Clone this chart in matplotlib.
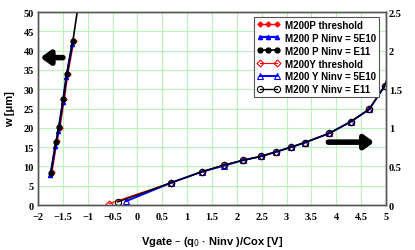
import matplotlib.pyplot as plt
from matplotlib.legend_handler import HandlerLine2D

# left axis: M200 P series, w [um]
p_thr_x = [-1.72, -1.62, -1.56, -1.47, -1.40, -1.28]
p_thr_w = [8.5, 16.5, 20.0, 27.5, 34.0, 42.5]
p_5e10_x = [-1.75, -1.65, -1.59, -1.50, -1.43, -1.31]
p_5e10_w = [7.8, 15.3, 19.2, 26.8, 33.2, 41.8]
p_e11_x = [-1.74, -1.64, -1.58, -1.49, -1.42, -1.30, -1.20]
p_e11_w = [8.4, 16.4, 20.1, 27.5, 33.9, 42.4, 51.0]

# right axis: M200 Y series
y_thr_x = [-0.57, 0.68, 1.29, 1.74, 2.12, 2.48, 2.79, 3.09, 3.37, 3.86, 4.29, 4.66, 4.97]
y_thr_v = [0.02, 0.29, 0.43, 0.52, 0.58, 0.63, 0.69, 0.75, 0.81, 0.93, 1.08, 1.24, 1.54]
y_5e10_x = [-0.23, 0.68, 1.29, 1.74, 2.12, 2.48, 2.79, 3.09, 3.37, 3.86, 4.29, 4.66, 4.97]
y_5e10_v = [0.05, 0.29, 0.43, 0.51, 0.58, 0.63, 0.69, 0.75, 0.81, 0.93, 1.08, 1.24, 1.54]
y_e11_x = [-0.40, 0.68, 1.29, 1.74, 2.12, 2.48, 2.79, 3.09, 3.37, 3.86, 4.29, 4.66, 4.97, 5.1]
y_e11_v = [0.04, 0.29, 0.43, 0.52, 0.58, 0.63, 0.69, 0.75, 0.81, 0.93, 1.08, 1.24, 1.54, 1.8]

xticks = [-2, -1.5, -1, -0.5, 0, 0.5, 1, 1.5, 2, 2.5, 3, 3.5, 4, 4.5, 5]
xlabels = ['\u22122', '\u22121.5', '\u22121', '\u22120.5', '0', '0.5', '1', '1.5', '2',
           '2.5', '3', '3.5', '4', '4.5', '5']

fig = plt.figure(figsize=(4.15, 2.51), dpi=100)
ax = fig.add_axes([0.0916, 0.179, 0.8386, 0.769])
ax2 = ax.twinx()

tick_font = dict(family='Liberation Serif', weight='bold', size=7.5)

ax.set_xlim(-2, 5)
ax.set_ylim(0, 50)
ax2.set_ylim(0, 2.5)
ax.set_xticks(xticks)
ax.set_xticklabels(xlabels, **tick_font)
ax.set_yticks(range(0, 51, 5))
ax.set_yticklabels([str(v) for v in range(0, 51, 5)], **tick_font)
ax2.set_yticks([0, 0.5, 1, 1.5, 2, 2.5])
ax2.set_yticklabels(['0', '0.5', '1', '1.5', '2', '2.5'], **tick_font)
ax.tick_params(axis='x', length=0, pad=5)
ax.tick_params(axis='y', length=0, pad=3)
ax2.tick_params(length=0, pad=2)

ax.grid(True, color='#b8f5b8', lw=0.8)
ax.set_axisbelow(True)
for a in (ax, ax2):
    for s in a.spines.values():
        s.set_color('#555555')
        s.set_linewidth(1.0)

# left series
h1, = ax.plot(p_thr_x, p_thr_w, color='red', marker='D', ms=2.5, lw=1.0)
h2, = ax.plot(p_5e10_x, p_5e10_w, color='blue', marker='^', ms=3, lw=1.6)
h3, = ax.plot(p_e11_x, p_e11_w, color='black', marker='o', ms=3.5, lw=1.2,
              markevery=list(range(len(p_e11_x) - 1)))

# right series
h4, = ax2.plot(y_thr_x, y_thr_v, color='red', marker='D', ms=3.5, mfc='none', mew=0.8, lw=0.8)
h5, = ax2.plot(y_5e10_x, y_5e10_v, color='blue', marker='^', ms=4.5, mfc='none', mew=0.8, lw=1.4)
h6, = ax2.plot(y_e11_x, y_e11_v, color='black', marker='o', ms=4.5, mfc='none', mew=0.8, lw=1.0,
               markevery=list(range(len(y_e11_x) - 1)))
ax2.set_xlim(-2, 5)

# arrows
ax.annotate('', xy=(-1.95, 38.2), xytext=(-1.50, 38.2),
            arrowprops=dict(arrowstyle='-|>,head_width=0.4,head_length=0.55',
                            lw=4, color='black', shrinkA=0, shrinkB=0))
ax.annotate('', xy=(4.76, 16.3), xytext=(3.84, 16.3),
            arrowprops=dict(arrowstyle='-|>,head_width=0.4,head_length=0.55',
                            lw=4, color='black', shrinkA=0, shrinkB=0))

ax.set_xlabel('Vgate \u2013 (q$_0$ \u00b7 Ninv )/Cox [V]', family='Liberation Sans',
              weight='bold', size=8, labelpad=9)
ax.set_ylabel('w [\u03bcm]', family='Liberation Sans', weight='bold', size=8, labelpad=6)

leg = ax2.legend([h1, h2, h3, h4, h5, h6],
                 ['M200P threshold', 'M200 P Ninv = 5E10', 'M200 P Ninv = E11',
                  'M200Y threshold', 'M200 Y Ninv = 5E10', 'M200 Y Ninv = E11'],
                 handler_map={h1: HandlerLine2D(numpoints=3), h2: HandlerLine2D(numpoints=3),
                              h3: HandlerLine2D(numpoints=3), h4: HandlerLine2D(numpoints=2),
                              h5: HandlerLine2D(numpoints=2), h6: HandlerLine2D(numpoints=2)},
                 loc='upper right', bbox_to_anchor=(0.985, 0.985),
                 prop=dict(family='Liberation Sans', weight='bold', size=7),
                 frameon=True, fancybox=False, edgecolor='#555555', framealpha=1,
                 handlelength=2.4, handletextpad=0.5, borderpad=0.3, labelspacing=0.3,
                 borderaxespad=0.2)
leg.get_frame().set_linewidth(0.8)

fig.savefig('out.png', dpi=100)
